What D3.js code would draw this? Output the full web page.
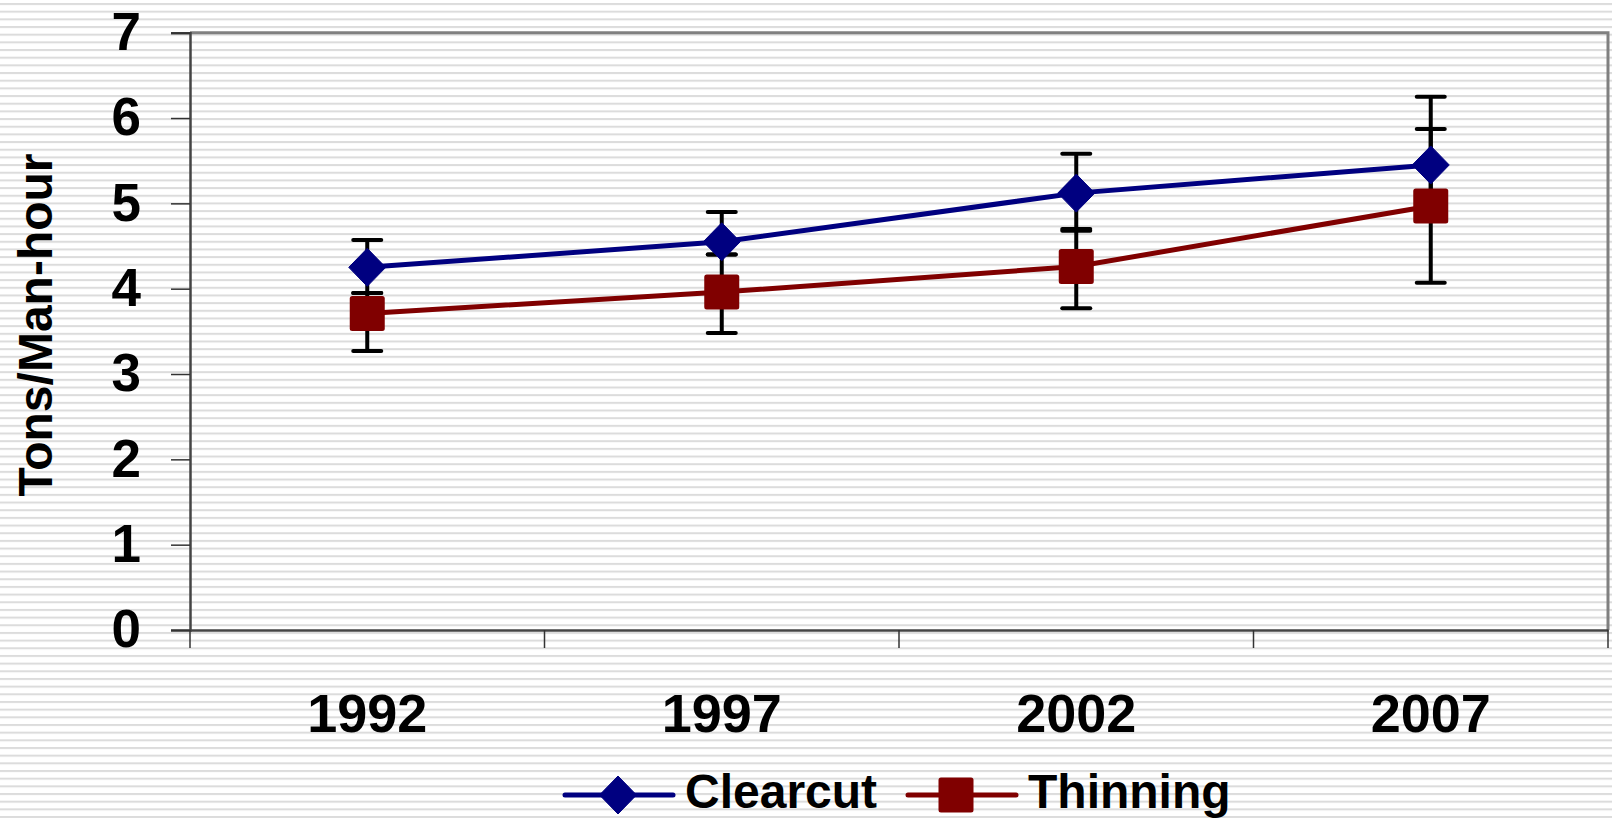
<!DOCTYPE html>
<html>
<head>
<meta charset="utf-8">
<script src="https://cdn.jsdelivr.net/npm/d3@7"></script>
<style>
  html, body { margin: 0; padding: 0; background: #fff; }
  svg { display: block; }
  text { font-family: "Liberation Sans", Arial, sans-serif; font-weight: bold; fill: #000; }
</style>
</head>
<body>
<div id="chart"></div>
<script>
// data
var years = ["1992", "1997", "2002", "2007"];
var clearcut = [4.25, 4.55, 5.12, 5.45];
var clearcutErrPlus = [0.32, 0.35, 0.46, 0.80];
var clearcutErrMinus = [0.30, 0.15, 0.44, 0.42];
var thinning = [3.71, 3.96, 4.26, 4.97];
var thinningErrPlus = [0.24, 0.44, 0.44, 0.90];
var thinningErrMinus = [0.44, 0.48, 0.49, 0.90];
var yTicks = [0, 1, 2, 3, 4, 5, 6, 7];

var W = 1612, H = 818;
var plotLeft = 190, plotRight = 1608, plotTop = 32.7, plotBottom = 630;

var svg = d3.select("#chart").append("svg")
    .attr("width", W)
    .attr("height", H);

// striped background
var defs = svg.append("defs");
var pat = defs.append("pattern")
    .attr("id", "stripes")
    .attr("patternUnits", "userSpaceOnUse")
    .attr("width", 20)
    .attr("height", 7.67)
    .attr("y", 3);
pat.append("rect").attr("width", 20).attr("height", 7.67).attr("fill", "#ffffff");
pat.append("rect").attr("y", 0).attr("width", 20).attr("height", 2).attr("fill", "#dcdcdc");
svg.append("rect").attr("width", W).attr("height", H).attr("fill", "url(#stripes)");

var x = d3.scaleBand()
    .domain(years)
    .range([plotLeft, plotRight])
    .padding(0);

var y = d3.scaleLinear()
    .domain([0, 7])
    .range([plotBottom, plotTop]);

var cx = d => x(d) + x.bandwidth() / 2;

// plot frame (top / right in gray)
svg.append("path")
    .attr("d", "M" + plotLeft + "," + plotTop + "H" + plotRight + "V" + plotBottom)
    .attr("fill", "none")
    .attr("stroke", "#808080")
    .attr("stroke-width", 3);

// y axis
var yAxis = svg.append("g")
    .attr("transform", "translate(" + plotLeft + ",0)")
    .call(d3.axisLeft(y).tickValues(yTicks).tickFormat(d3.format("d")).tickSize(19).tickPadding(30));
yAxis.select(".domain").attr("stroke", "#444").attr("stroke-width", 2.5);
yAxis.selectAll(".tick line").attr("stroke", "#333").attr("stroke-width", 1.5);
yAxis.selectAll(".tick text")
    .style("font-size", "53px")
    .style("font-family", "'Liberation Sans', Arial, sans-serif")
    .style("font-weight", "bold")
    .attr("fill", "#000");

// x axis: labels and band boundary ticks
var xAxis = svg.append("g")
    .attr("transform", "translate(0," + plotBottom + ")")
    .call(d3.axisBottom(x).tickSize(0).tickPadding(64));
xAxis.select(".domain").attr("stroke", "#444").attr("stroke-width", 2.5);
xAxis.selectAll(".tick text")
    .style("font-size", "54px")
    .style("font-family", "'Liberation Sans', Arial, sans-serif")
    .style("font-weight", "bold")
    .attr("fill", "#000");

var bounds = years.map(d => x(d)).concat([x(years[years.length - 1]) + x.step()]);
xAxis.selectAll(".bound")
    .data(bounds)
    .enter().append("line")
    .attr("class", "bound")
    .attr("x1", d => d).attr("x2", d => d)
    .attr("y1", 0).attr("y2", 18)
    .attr("stroke", "#333")
    .attr("stroke-width", 1.5);

// y axis title
svg.append("text")
    .attr("transform", "translate(52,325) rotate(-90)")
    .attr("text-anchor", "middle")
    .style("font-size", "48px")
    .text("Tons/Man-hour");

var series = [
    { name: "Clearcut", values: clearcut, plus: clearcutErrPlus, minus: clearcutErrMinus, color: "#000080", shape: "diamond" },
    { name: "Thinning", values: thinning, plus: thinningErrPlus, minus: thinningErrMinus, color: "#800000", shape: "square" }
];

var line = d3.line()
    .x((d, i) => cx(years[i]))
    .y(d => y(d));

// lines
series.forEach(function (s) {
    svg.append("path")
        .datum(s.values)
        .attr("d", line)
        .attr("fill", "none")
        .attr("stroke", s.color)
        .attr("stroke-width", 5);
});

// error bars
series.forEach(function (s) {
    var g = svg.append("g");
    s.values.forEach(function (v, i) {
        var px = cx(years[i]);
        var hi = v + s.plus[i], lo = v - s.minus[i];
        g.append("line")
            .attr("x1", px).attr("x2", px)
            .attr("y1", y(hi)).attr("y2", y(lo))
            .attr("stroke", "#000").attr("stroke-width", 4);
        [hi, lo].forEach(function (e) {
            g.append("line")
                .attr("x1", px - 14).attr("x2", px + 14)
                .attr("y1", y(e)).attr("y2", y(e))
                .attr("stroke", "#000").attr("stroke-width", 4)
                .attr("stroke-linecap", "round");
        });
    });
});

// markers
function marker(g, shape, color, px, py) {
    if (shape === "diamond") {
        g.append("path")
            .attr("d", "M" + px + "," + (py - 19) + "L" + (px + 18.5) + "," + py + "L" + px + "," + (py + 19) + "L" + (px - 18.5) + "," + py + "Z")
            .attr("fill", color)
            .attr("stroke", color)
            .attr("stroke-width", 1)
            .attr("stroke-linejoin", "round");
    } else {
        g.append("rect")
            .attr("x", px - 17.5).attr("y", py - 17.5)
            .attr("width", 35).attr("height", 35)
            .attr("rx", 2.5)
            .attr("fill", color);
    }
}

series.forEach(function (s) {
    var g = svg.append("g");
    s.values.forEach(function (v, i) {
        marker(g, s.shape, s.color, cx(years[i]), y(v));
    });
});

// legend
var leg = svg.append("g")
    .attr("transform", "translate(565,795)");
var legX = [0, 343];
series.forEach(function (s, i) {
    var g = leg.append("g").attr("transform", "translate(" + legX[i] + ",0)");
    g.append("line")
        .attr("x1", 0).attr("x2", 108)
        .attr("y1", 0).attr("y2", 0)
        .attr("stroke", s.color)
        .attr("stroke-width", 5)
        .attr("stroke-linecap", "round");
    marker(g, s.shape, s.color, s.shape === "diamond" ? 53 : 48, 0);
    g.append("text")
        .attr("x", 120)
        .attr("y", 13)
        .style("font-size", "48px")
        .text(s.name);
});
</script>
</body>
</html>
